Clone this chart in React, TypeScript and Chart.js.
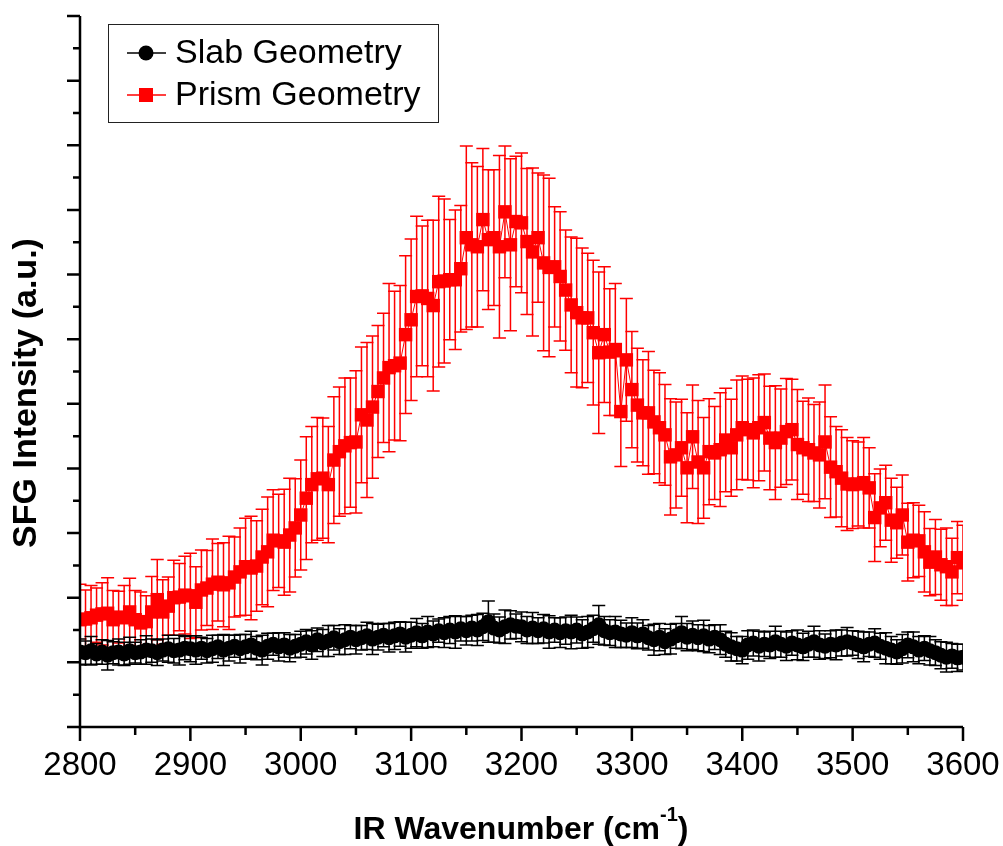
import React, { useEffect, useRef } from 'react';
import { Chart, registerables } from 'chart.js';

Chart.register(...registerables);

// Wavenumber grid (cm^-1): first point and spacing of the measured spectrum
const WAVENUMBER_START = 2800;
const WAVENUMBER_STEP = 5;
const X_TICKS = [2800, 2900, 3000, 3100, 3200, 3300, 3400, 3500, 3600];

const SLAB_LABEL = 'Slab Geometry';
const PRISM_LABEL = 'Prism Geometry';

// SFG intensity (a.u.), Slab geometry
const SLAB = [
  1.16, 1.15, 1.18, 1.13, 1.16, 1.11, 1.15, 1.16, 1.13, 1.18, 1.15, 1.16, 1.19, 1.18, 1.15, 1.19, 1.21, 1.18, 1.19, 1.22, 1.21,
  1.19, 1.22, 1.18, 1.21, 1.24, 1.19, 1.22, 1.25, 1.21, 1.24, 1.27, 1.22, 1.19, 1.25, 1.28, 1.24, 1.27, 1.22, 1.25, 1.28,
  1.32, 1.27, 1.35, 1.30, 1.33, 1.38, 1.32, 1.35, 1.39, 1.35, 1.38, 1.41, 1.36, 1.39, 1.42, 1.38, 1.41, 1.44, 1.39, 1.42,
  1.46, 1.41, 1.47, 1.44, 1.49, 1.46, 1.50, 1.47, 1.52, 1.49, 1.53, 1.50, 1.55, 1.63, 1.53, 1.50, 1.55, 1.58, 1.56, 1.55,
  1.50, 1.53, 1.49, 1.52, 1.47, 1.50, 1.46, 1.49, 1.47, 1.50, 1.44, 1.47, 1.52, 1.58, 1.49, 1.46, 1.47, 1.44, 1.42, 1.46,
  1.41, 1.44, 1.38, 1.35, 1.39, 1.32, 1.36, 1.41, 1.46, 1.39, 1.42, 1.38, 1.41, 1.36, 1.39, 1.35, 1.28, 1.24, 1.21, 1.19,
  1.27, 1.30, 1.25, 1.28, 1.27, 1.32, 1.28, 1.25, 1.30, 1.27, 1.24, 1.28, 1.32, 1.27, 1.25, 1.28, 1.27, 1.30, 1.32, 1.30,
  1.27, 1.24, 1.28, 1.30, 1.25, 1.22, 1.19, 1.16, 1.21, 1.27, 1.24, 1.19, 1.22, 1.18, 1.15, 1.11, 1.08, 1.10, 1.07, 1.08,
];

const SLAB_ERR = [
  0.20, 0.18, 0.22, 0.16, 0.19, 0.23, 0.17, 0.20, 0.18, 0.21, 0.16, 0.19, 0.22, 0.18, 0.20, 0.17, 0.21, 0.19, 0.23, 0.18, 0.20,
  0.22, 0.17, 0.19, 0.21, 0.18, 0.24, 0.20, 0.17, 0.22, 0.19, 0.21, 0.18, 0.23, 0.20, 0.17, 0.22, 0.19, 0.21, 0.18, 0.20,
  0.19, 0.22, 0.18, 0.21, 0.24, 0.19, 0.20, 0.23, 0.18, 0.22, 0.19, 0.21, 0.24, 0.20, 0.18, 0.22, 0.21, 0.19, 0.23, 0.20,
  0.22, 0.19, 0.24, 0.20, 0.18, 0.23, 0.21, 0.25, 0.19, 0.22, 0.20, 0.24, 0.21, 0.32, 0.22, 0.20, 0.26, 0.22, 0.19, 0.23,
  0.21, 0.24, 0.20, 0.22, 0.25, 0.19, 0.23, 0.21, 0.26, 0.20, 0.22, 0.24, 0.21, 0.30, 0.22, 0.20, 0.24, 0.21, 0.19, 0.23,
  0.20, 0.22, 0.19, 0.24, 0.21, 0.20, 0.23, 0.19, 0.25, 0.21, 0.22, 0.20, 0.24, 0.21, 0.19, 0.23, 0.20, 0.22, 0.19, 0.21,
  0.22, 0.20, 0.23, 0.19, 0.21, 0.24, 0.20, 0.22, 0.19, 0.23, 0.21, 0.20, 0.24, 0.22, 0.19, 0.21, 0.23, 0.20, 0.22, 0.19,
  0.21, 0.23, 0.19, 0.22, 0.20, 0.24, 0.21, 0.19, 0.22, 0.20, 0.23, 0.21, 0.19, 0.22, 0.20, 0.21, 0.23, 0.19, 0.21, 0.20,
];

// SFG intensity (a.u.), Prism geometry
const PRISM = [
  1.66, 1.67, 1.69, 1.73, 1.75, 1.76, 1.66, 1.70, 1.69, 1.78, 1.66, 1.61, 1.63, 1.78, 1.97, 1.78, 1.87, 2.00, 2.01, 2.04, 2.03,
  1.93, 2.12, 2.15, 2.21, 2.24, 2.20, 2.23, 2.32, 2.40, 2.48, 2.46, 2.49, 2.63, 2.71, 2.89, 2.88, 2.86, 2.97, 3.08, 3.28,
  3.54, 3.75, 3.84, 3.85, 3.75, 4.13, 4.26, 4.35, 4.40, 4.41, 4.83, 4.75, 4.95, 5.19, 5.40, 5.56, 5.59, 5.63, 6.07, 6.30,
  6.66, 6.67, 6.63, 6.52, 6.89, 6.90, 6.92, 6.92, 7.09, 7.57, 7.46, 7.43, 7.85, 7.54, 7.57, 7.43, 7.97, 7.46, 7.82, 7.80,
  7.51, 7.35, 7.57, 7.18, 7.11, 7.12, 6.97, 6.76, 6.53, 6.41, 6.33, 6.33, 6.10, 5.79, 6.07, 5.80, 5.84, 4.88, 5.68, 5.22,
  4.98, 4.86, 4.86, 4.72, 4.63, 4.52, 4.18, 4.21, 4.32, 4.01, 4.49, 4.10, 4.01, 4.26, 4.24, 4.29, 4.44, 4.32, 4.52, 4.63,
  4.60, 4.55, 4.63, 4.71, 4.47, 4.40, 4.47, 4.57, 4.60, 4.37, 4.32, 4.29, 4.24, 4.21, 4.41, 4.02, 3.95, 3.85, 3.76, 3.75,
  3.76, 3.78, 3.70, 3.24, 3.39, 3.47, 3.20, 3.16, 3.28, 2.86, 2.89, 2.88, 2.71, 2.55, 2.63, 2.51, 2.48, 2.40, 2.62, 2.54,
];

const PRISM_ERR = [
  0.55, 0.45, 0.50, 0.42, 0.48, 0.55, 0.45, 0.40, 0.50, 0.52, 0.45, 0.48, 0.40, 0.55, 0.62, 0.50, 0.45, 0.58, 0.52, 0.60, 0.66,
  0.55, 0.62, 0.58, 0.70, 0.60, 0.65, 0.72, 0.62, 0.68, 0.75, 0.80, 0.70, 0.74, 0.85, 0.78, 0.72, 0.82, 0.88, 0.76, 0.85,
  0.95, 0.90, 0.95, 0.93, 0.90, 0.98, 1.00, 1.05, 1.00, 1.10, 1.05, 1.20, 1.10, 1.02, 1.00, 1.30, 1.15, 1.20, 1.22, 1.25,
  1.24, 1.08, 1.21, 1.32, 1.32, 1.27, 0.93, 1.08, 0.98, 1.42, 1.27, 1.24, 1.10, 1.08, 1.05, 1.41, 1.02, 1.33, 1.01, 1.08,
  1.13, 1.30, 1.00, 1.36, 1.38, 0.93, 1.00, 0.93, 1.05, 1.15, 1.08, 1.00, 1.12, 1.25, 1.05, 0.98, 1.02, 0.85, 0.95, 0.90,
  0.88, 0.82, 0.95, 0.80, 0.85, 0.78, 0.90, 0.82, 0.75, 0.85, 0.80, 0.95, 0.78, 0.82, 0.72, 0.88, 0.80, 0.75, 0.85, 0.80,
  0.78, 0.85, 0.82, 0.75, 0.80, 0.88, 0.76, 0.82, 0.78, 0.85, 0.72, 0.80, 0.75, 0.82, 0.88, 0.78, 0.70, 0.75, 0.72, 0.68,
  0.65, 0.70, 0.62, 0.68, 0.60, 0.58, 0.65, 0.55, 0.62, 0.60, 0.58, 0.55, 0.62, 0.52, 0.58, 0.55, 0.60, 0.52, 0.56, 0.58,
];

const Y_MIN = 0;
const Y_MAX = 11;

const FONT = 'Arial, "Liberation Sans", Helvetica, sans-serif';

function toPoints(values: number[], errs: number[]) {
  return values.map((v, i) => ({ x: WAVENUMBER_START + i * WAVENUMBER_STEP, y: v, err: errs[i] ?? 0 }));
}

const errorBarPlugin = {
  id: 'errorBars',
  beforeDatasetDraw(chart: any, args: any) {
    const ds = chart.data.datasets[args.index];
    const xs = chart.scales.x;
    const ys = chart.scales.y;
    const ctx = chart.ctx as CanvasRenderingContext2D;
    const a = chart.chartArea;
    const cap = 6.5;
    ctx.save();
    ctx.beginPath();
    ctx.rect(a.left, a.top, a.right - a.left, a.bottom - a.top);
    ctx.clip();
    ctx.strokeStyle = ds.errorColor;
    ctx.lineWidth = 1.5;
    ds.data.forEach((p: any) => {
      const px = xs.getPixelForValue(p.x);
      const yt = ys.getPixelForValue(p.y + p.err);
      const yb = ys.getPixelForValue(p.y - p.err);
      ctx.beginPath();
      ctx.moveTo(px, yt);
      ctx.lineTo(px, yb);
      ctx.moveTo(px - cap, yt);
      ctx.lineTo(px + cap, yt);
      ctx.moveTo(px - cap, yb);
      ctx.lineTo(px + cap, yb);
      ctx.stroke();
    });
    ctx.restore();
  },
};

const axesPlugin = {
  id: 'originAxes',
  afterDatasetsDraw(chart: any) {
    const ctx = chart.ctx as CanvasRenderingContext2D;
    const a = chart.chartArea;
    const xs = chart.scales.x;
    const ys = chart.scales.y;
    ctx.save();
    ctx.strokeStyle = '#000';
    ctx.lineWidth = 2.5;
    ctx.lineCap = 'butt';
    ctx.beginPath();
    ctx.moveTo(a.left, a.top);
    ctx.lineTo(a.left, a.bottom);
    ctx.lineTo(a.right, a.bottom);
    ctx.stroke();
    ctx.beginPath();
    for (let v = Y_MIN; v <= Y_MAX + 1e-9; v += 0.5) {
      const py = ys.getPixelForValue(v);
      const major = Math.abs(v - Math.round(v)) < 1e-6;
      ctx.moveTo(a.left - (major ? 13 : 7), py);
      ctx.lineTo(a.left, py);
    }
    const xmin = X_TICKS[0];
    const xmax = X_TICKS[X_TICKS.length - 1];
    for (let v = xmin; v <= xmax + 1e-9; v += 50) {
      const px = xs.getPixelForValue(v);
      const major = v % 100 === 0;
      ctx.moveTo(px, a.bottom);
      ctx.lineTo(px, a.bottom + (major ? 14 : 8));
    }
    ctx.stroke();
    ctx.restore();
  },
  afterDraw(chart: any) {
    const ctx = chart.ctx as CanvasRenderingContext2D;
    ctx.save();
    ctx.fillStyle = '#000';
    // Y title
    ctx.save();
    ctx.translate(27, 393);
    ctx.rotate(-Math.PI / 2);
    ctx.font = `bold 34px ${FONT}`;
    ctx.textAlign = 'center';
    ctx.textBaseline = 'middle';
    ctx.fillText('SFG Intensity (a.u.)', 0, 0);
    ctx.restore();

    // X title with superscript
    const mainFont = `bold 32px ${FONT}`;
    const supFont = `bold 20px ${FONT}`;
    const t1 = 'IR Wavenumber (cm';
    const t2 = '-1';
    const t3 = ')';
    ctx.font = mainFont;
    const w1 = ctx.measureText(t1).width;
    const w3 = ctx.measureText(t3).width;
    ctx.font = supFont;
    const w2 = ctx.measureText(t2).width;
    const total = w1 + w2 + w3;
    let x = 521 - total / 2;
    const base = 839;
    ctx.textAlign = 'left';
    ctx.textBaseline = 'alphabetic';
    ctx.font = mainFont;
    ctx.fillText(t1, x, base);
    x += w1;
    ctx.font = supFont;
    ctx.fillText(t2, x, base - 18);
    x += w2;
    ctx.font = mainFont;
    ctx.fillText(t3, x, base);

    // Legend
    ctx.strokeStyle = '#222';
    ctx.lineWidth = 1;
    ctx.strokeRect(108.5, 24.5, 330, 98);
    const rows = [
      { label: SLAB_LABEL, y: 53, color: '#000', shape: 'circle' },
      { label: PRISM_LABEL, y: 95, color: '#ff0000', shape: 'rect' },
    ];
    rows.forEach((r) => {
      ctx.strokeStyle = r.color;
      ctx.lineWidth = 1.5;
      ctx.beginPath();
      ctx.moveTo(127, r.y);
      ctx.lineTo(166, r.y);
      ctx.stroke();
      ctx.fillStyle = r.color;
      if (r.shape === 'circle') {
        ctx.beginPath();
        ctx.arc(146, r.y, 7.5, 0, Math.PI * 2);
        ctx.fill();
      } else {
        ctx.fillRect(139, r.y - 7, 14, 14);
      }
      ctx.fillStyle = '#000';
      ctx.font = `34px ${FONT}`;
      ctx.textBaseline = 'middle';
      ctx.fillText(r.label, 175, r.y + 1);
    });
    ctx.restore();
  },
};

export default function App() {
  const canvasRef = useRef<HTMLCanvasElement | null>(null);

  useEffect(() => {
    const canvas = canvasRef.current;
    if (!canvas) return;
    const chart = new Chart(canvas, {
      type: 'scatter',
      data: {
        datasets: [
          {
            label: SLAB_LABEL,
            data: toPoints(SLAB, SLAB_ERR),
            showLine: true,
            borderColor: '#000',
            borderWidth: 1,
            backgroundColor: '#000',
            pointStyle: 'circle',
            pointRadius: 7.5,
            pointBorderWidth: 0,
            pointBackgroundColor: '#000',
            clip: 0,
            errorColor: '#000',
          } as any,
          {
            label: PRISM_LABEL,
            data: toPoints(PRISM, PRISM_ERR),
            showLine: true,
            borderColor: '#ff0000',
            borderWidth: 1,
            backgroundColor: '#ff0000',
            pointStyle: 'rect',
            pointRadius: 9.5,
            pointBorderWidth: 0,
            pointBackgroundColor: '#ff0000',
            clip: 0,
            errorColor: '#ff0000',
          } as any,
        ],
      },
      options: {
        responsive: false,
        animation: false,
        devicePixelRatio: 1,
        layout: { padding: { left: 0, top: 16, right: 40, bottom: 0 } },
        plugins: {
          legend: { display: false },
          tooltip: { enabled: false },
        },
        events: [],
        scales: {
          x: {
            type: 'linear',
            min: X_TICKS[0],
            max: X_TICKS[X_TICKS.length - 1],
            afterBuildTicks: (scale: any) => {
              scale.ticks = X_TICKS.map((v) => ({ value: v }));
            },
            afterFit: (scale: any) => {
              scale.height = 119;
              scale.paddingLeft = 0;
              scale.paddingRight = 0;
            },
            ticks: {
              color: '#000',
              font: { family: FONT, size: 33 },
              padding: 19,
              maxRotation: 0,
              autoSkip: false,
              callback: (v: any) => String(v),
            },
            grid: { display: false, drawTicks: false },
            border: { display: false },
          },
          y: {
            type: 'linear',
            min: Y_MIN,
            max: Y_MAX,
            afterFit: (scale: any) => {
              scale.width = 80;
              scale.paddingTop = 0;
              scale.paddingBottom = 0;
            },
            ticks: { display: false },
            grid: { display: false, drawTicks: false },
            border: { display: false },
          },
        },
      } as any,
      plugins: [errorBarPlugin, axesPlugin],
    });
    return () => chart.destroy();
  }, []);

  return (
    <div style={{ position: 'fixed', left: 0, top: 0, width: 1003, height: 846, background: '#fff' }}>
      <canvas ref={canvasRef} width={1003} height={846} style={{ display: 'block' }} />
    </div>
  );
}
